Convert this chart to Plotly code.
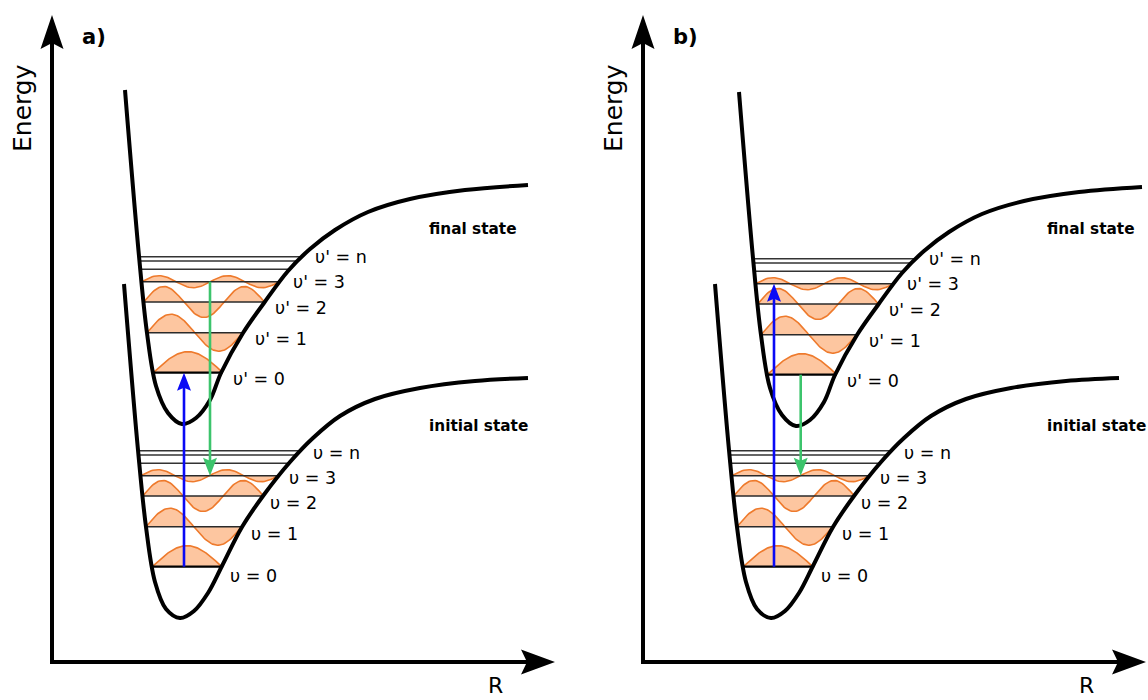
import numpy as np
import plotly.graph_objects as go

# ---------------- data (diagram units = pixels of the 1148x700 canvas, panel a) ----------------
PANEL_B_SHIFT = 591                 # panel b is panel a shifted right
FINAL_B_EXTRA = (23, 2)             # final-state well in panel b is displaced further
STATE_LABEL_B_SHIFT = 618

# potential-energy curves, panel a
INITIAL_R = [124, 138, 146, 155, 166, 180, 194, 208, 222, 242, 263, 290, 313, 340, 375, 420, 475, 528]
INITIAL_E = [284, 450, 527, 582, 609, 618, 611, 593, 566, 527, 496, 462, 438, 416, 399, 388, 381, 378]
FINAL_R = [125, 139, 147, 156, 168, 182, 196, 210, 221, 243, 264, 288, 310, 335, 368, 410, 465, 528]
FINAL_E = [90, 256, 333, 386, 413, 424, 418, 400, 373, 333, 303, 271, 249, 230, 212, 199, 190, 185]

# vibrational levels of the initial state (panel a)
LEVEL_E = [566.7, 526.7, 496.0, 475.7]
LEVEL_LEFT = [152.3, 146.0, 142.7, 140.7]
LEVEL_RIGHT = [221.7, 241.7, 263.3, 278.3]
WAVE_AMP = [21, 18.5, 15.5, 6]
WAVE_HALF = [1, 2, 3, 4]
NLINE_E = [463.3, 455.0, 450.7]
NLINE_LEFT = [139.0, 138.7, 138.5]
NLINE_RIGHT = [288.0, 296.7, 301.7]
FINAL_LEVEL_OFFSET = (1, -194)      # final-state levels relative to initial-state levels

# level labels (panel a)
INITIAL_LABELS = ["υ = 0", "υ = 1", "υ = 2", "υ = 3", "υ = n"]
INITIAL_LABEL_X = [228.3, 249.3, 268.3, 286.7, 310.7]
INITIAL_LABEL_Y = [575.7, 534.0, 502.7, 478.0, 452.7]
FINAL_LABELS = ["υ' = 0", "υ' = 1", "υ' = 2", "υ' = 3", "υ' = n"]
FINAL_LABEL_X = [231.0, 252.7, 272.7, 290.7, 313.3]
FINAL_LABEL_Y = [379.3, 339.3, 308.3, 282.3, 256.7]

STATE_LABELS = ["final state", "initial state"]
STATE_LABEL_X = [426.7, 426.7]
STATE_LABEL_Y = [229, 426]

PANEL_LABELS = ["a)", "b)"]

# transitions: (x, from level, to level)
ARROWS_A = [dict(x=184, start=("initial", 0), end=("final", 0), color="#0a0af5"),
            dict(x=210, start=("final", 3), end=("initial", 3), color="#3cc46c")]
ARROWS_B = [dict(x=774 - PANEL_B_SHIFT, start=("initial", 0), end=("final", 3), color="#0a0af5"),
            dict(x=800.7 - PANEL_B_SHIFT, start=("final", 0), end=("initial", 3), color="#3cc46c")]

# axes frame (panel a)
AXIS_ORIGIN = (52, 662)
AXIS_TOP = 15
AXIS_RIGHT = 555

ORANGE = "#ee7a2c"
ORANGE_FILL = "#fdc6a0"

fig = go.Figure()


def line(xs, ys, color, width, shape="linear"):
    fig.add_trace(go.Scatter(x=list(xs), y=list(ys), mode="lines",
                             line=dict(color=color, width=width, shape=shape, smoothing=1.0),
                             hoverinfo="skip"))


def poly(xs, ys, color):
    fig.add_trace(go.Scatter(x=list(xs), y=list(ys), mode="lines", fill="toself",
                             fillcolor=color, line=dict(width=0, color=color), hoverinfo="skip"))


def level_e(state, i, dy):
    e = LEVEL_E[i] + (FINAL_LEVEL_OFFSET[1] if state == "final" else 0)
    return e + dy


def draw_well(dx, dy, state):
    ox = FINAL_LEVEL_OFFSET[0] if state == "final" else 0
    oy = FINAL_LEVEL_OFFSET[1] if state == "final" else 0
    for i in range(len(LEVEL_E)):
        xl = LEVEL_LEFT[i] + ox + dx
        xr = LEVEL_RIGHT[i] + ox + dx
        y0 = LEVEL_E[i] + oy + dy
        t = np.linspace(0, 1, 80)
        wx = xl + (xr - xl) * t
        wy = y0 - WAVE_AMP[i] * np.sin(WAVE_HALF[i] * np.pi * t)
        poly(list(wx) + [xr, xl], list(wy) + [y0, y0], ORANGE_FILL)
        line(wx, wy, ORANGE, 1.6)
    for i in range(len(LEVEL_E)):
        xl = LEVEL_LEFT[i] + ox + dx
        xr = LEVEL_RIGHT[i] + ox + dx
        y0 = LEVEL_E[i] + oy + dy
        line([xl, xr], [y0, y0], "#000000" if i == 0 else "#2a2a2a", 2.2 if i == 0 else 1.6)
    for i in range(len(NLINE_E)):
        y0 = NLINE_E[i] + oy + dy
        line([NLINE_LEFT[i] + ox + dx, NLINE_RIGHT[i] + ox + dx], [y0, y0], "#333333", 1.6)


def arrow_head(x, y_tip, direction, color, length=18, half=7, notch=3):
    back = y_tip - direction * length
    poly([x, x - half, x, x + half, x],
         [y_tip, back, back + direction * notch, back, y_tip], color)


def draw_panel(k):
    dx = k * PANEL_B_SHIFT
    fdx = dx + (FINAL_B_EXTRA[0] if k == 1 else 0)
    fdy = FINAL_B_EXTRA[1] if k == 1 else 0
    sdx = STATE_LABEL_B_SHIFT if k == 1 else 0
    draw_well(dx, 0, "initial")
    draw_well(fdx, fdy, "final")
    line(np.array(INITIAL_R) + dx, INITIAL_E, "#000000", 4, "spline")
    line(np.array(FINAL_R) + fdx, np.array(FINAL_E) + fdy, "#000000", 4, "spline")

    arrows = ARROWS_A if k == 0 else ARROWS_B
    for a in arrows:
        def ey(spec):
            st, i = spec
            return level_e(st, i, fdy if st == "final" else 0)
        y1, y2 = ey(a["start"]), ey(a["end"])
        x = a["x"] + dx
        direction = 1 if y2 > y1 else -1
        line([x, x], [y1, y2 - direction * 12], a["color"], 2.6)
        arrow_head(x, y2, direction, a["color"])

    # axes
    ox, oy = AXIS_ORIGIN
    line([ox + dx, ox + dx], [oy + 2, AXIS_TOP + 25], "#000000", 4)
    line([ox + dx - 2, AXIS_RIGHT + dx - 25], [oy, oy], "#000000", 4)
    poly([ox + dx, ox + dx - 11.5, ox + dx, ox + dx + 11.5, ox + dx],
         [AXIS_TOP, AXIS_TOP + 34, AXIS_TOP + 28, AXIS_TOP + 34, AXIS_TOP], "#000000")
    poly([AXIS_RIGHT + dx, AXIS_RIGHT + dx - 34, AXIS_RIGHT + dx - 28, AXIS_RIGHT + dx - 34, AXIS_RIGHT + dx],
         [oy, oy - 12.5, oy, oy + 12.5, oy], "#000000")

    ann = []
    for txt, x, y in zip(INITIAL_LABELS, INITIAL_LABEL_X, INITIAL_LABEL_Y):
        ann.append(dict(x=x + dx, y=y, text=txt, xanchor="left", yanchor="middle"))
    for txt, x, y in zip(FINAL_LABELS, FINAL_LABEL_X, FINAL_LABEL_Y):
        ann.append(dict(x=x + fdx, y=y + fdy, text=txt, xanchor="left", yanchor="middle"))
    for a in ann:
        a.update(showarrow=False, xref="x", yref="y",
                 font=dict(family="DejaVu Sans", size=17.5, color="#000000"))
    for txt, x, y in zip(STATE_LABELS, STATE_LABEL_X, STATE_LABEL_Y):
        ann.append(dict(x=x + sdx, y=y, text="<b>" + txt + "</b>", xanchor="left", yanchor="middle",
                        showarrow=False, xref="x", yref="y",
                        font=dict(family="DejaVu Sans", size=15.3, color="#000000")))
    ann.append(dict(x=80 + dx, y=37, text="<b>" + PANEL_LABELS[k] + "</b>", xanchor="left",
                    yanchor="middle", showarrow=False, xref="x", yref="y",
                    font=dict(family="DejaVu Sans", size=21, color="#000000")))
    ann.append(dict(x=22 + dx, y=108, text="Energy", textangle=-90, xanchor="center",
                    yanchor="middle", showarrow=False, xref="x", yref="y",
                    font=dict(family="DejaVu Sans", size=25, color="#000000")))
    ann.append(dict(x=495 + dx, y=685, text="R", xanchor="center", yanchor="middle",
                    showarrow=False, xref="x", yref="y",
                    font=dict(family="DejaVu Sans", size=22, color="#000000")))
    return ann


annotations = draw_panel(0) + draw_panel(1)

fig.update_layout(
    width=1148, height=700, margin=dict(l=0, r=0, t=0, b=0),
    paper_bgcolor="white", plot_bgcolor="white", showlegend=False,
    xaxis=dict(range=[0, 1148], visible=False, fixedrange=True),
    yaxis=dict(range=[700, 0], visible=False, fixedrange=True),
    annotations=annotations,
)

fig.write_html("out.html", config={"displayModeBar": False})
